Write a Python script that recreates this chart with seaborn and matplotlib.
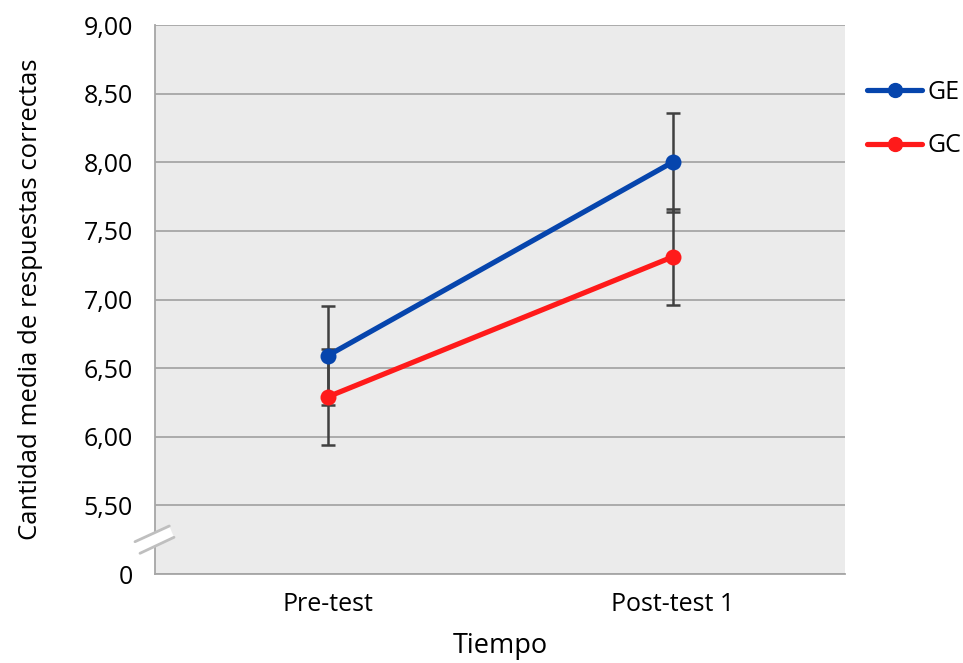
import matplotlib
matplotlib.use("Agg")
import matplotlib.pyplot as plt
from matplotlib.patches import Polygon
from matplotlib.lines import Line2D
import seaborn as sns
import pandas as pd

categories = ["Pre-test", "Post-test 1"]
ge_values = [6.59, 8.00]
gc_values = [6.29, 7.31]
ge_err = [0.36, 0.36]
gc_err = [0.35, 0.35]
series_names = ["GE", "GC"]
ytick_values = [5.0, 5.5, 6.0, 6.5, 7.0, 7.5, 8.0, 8.5, 9.0]
ytick_labels = ["0", "5,50", "6,00", "6,50", "7,00", "7,50", "8,00", "8,50", "9,00"]

colors = {"GE": "#0645AD", "GC": "#FF1A1A"}

df = pd.DataFrame({
    "x": list(range(len(categories))) * 2,
    "Tiempo": categories * 2,
    "valor": ge_values + gc_values,
    "err": ge_err + gc_err,
    "grupo": ["GE"] * len(categories) + ["GC"] * len(categories),
})

sns.set_theme(style="white")
plt.rcParams["font.family"] = ["Open Sans", "DejaVu Sans"]
plt.rcParams["text.color"] = "black"
plt.rcParams["axes.labelcolor"] = "black"

fig = plt.figure(figsize=(9.63, 6.63), dpi=100)
ax = fig.add_axes([155 / 963, 1 - 574 / 663, 690 / 963, 549 / 663])
ax.set_facecolor("#EBEBEB")

# error bars first (behind lines)
for g in series_names:
    sub = df[df.grupo == g]
    ax.errorbar(sub["x"], sub["valor"], yerr=sub["err"], fmt="none",
                ecolor="#404040", elinewidth=1.8, capsize=5, capthick=1.8, zorder=2)

sns.lineplot(data=df, x="x", y="valor", hue="grupo", palette=colors,
             hue_order=series_names, marker="o", markersize=11.5,
             markeredgewidth=0, linewidth=3.75, ax=ax, legend=False, zorder=3)

ax.set_xlim(-0.5, len(categories) - 0.5)
ax.set_ylim(5.0, 9.0)
ax.set_yticks(ytick_values)
ax.set_yticklabels(ytick_labels, fontsize=18)
ax.set_xticks(range(len(categories)))
ax.set_xticklabels(categories, fontsize=18)
ax.set_xticks([-0.5, 0.5, 1.5], minor=True)
ax.tick_params(axis="x", which="major", length=0, pad=13, labelcolor="black")
ax.tick_params(axis="x", which="minor", length=8, width=1, color="#A6A6A6", direction="out")
ax.tick_params(axis="y", which="major", length=12, width=1, color="#A6A6A6", direction="out",
               pad=4, labelcolor="black")
ax.grid(axis="y", color="#A6A6A6", linewidth=1.3)
ax.set_axisbelow(True)
for s in ["top", "right"]:
    ax.spines[s].set_visible(False)
for s in ["left", "bottom"]:
    ax.spines[s].set_color("#A6A6A6")
    ax.spines[s].set_linewidth(1.3)

ax.set_xlabel("Tiempo", fontsize=19.5, labelpad=11)
ax.set_ylabel("Cantidad media de respuestas correctas", fontsize=18.5, labelpad=29)

# axis break marks (figure pixel coords)
def fx(px):
    return px / 963
def fy(py):
    return 1 - py / 663
gap = Polygon([(fx(135), fy(541.7)), (fx(169.3), fy(526)), (fx(174), fy(537.3)), (fx(140), fy(553.3))],
              closed=True, transform=fig.transFigure, facecolor="white", edgecolor="none", zorder=5)
fig.patches.append(gap)
for (x1, y1, x2, y2) in [(135, 541.7, 169.3, 526), (140, 553.3, 174, 537.3)]:
    fig.add_artist(Line2D([fx(x1), fx(x2)], [fy(y1), fy(y2)], transform=fig.transFigure,
                          color="#BFBFBF", linewidth=2, zorder=6))

handles = [Line2D([0], [0], color=colors[g], marker="o", markersize=10, linewidth=3.75) for g in series_names]
fig.legend(handles, series_names, loc="upper left", bbox_to_anchor=(857 / 963, 1 - 70 / 663),
           frameon=False, fontsize=18, handlelength=2.2, handletextpad=0.2, labelspacing=1.14,
           borderaxespad=0)

fig.savefig("out.png", dpi=100)
